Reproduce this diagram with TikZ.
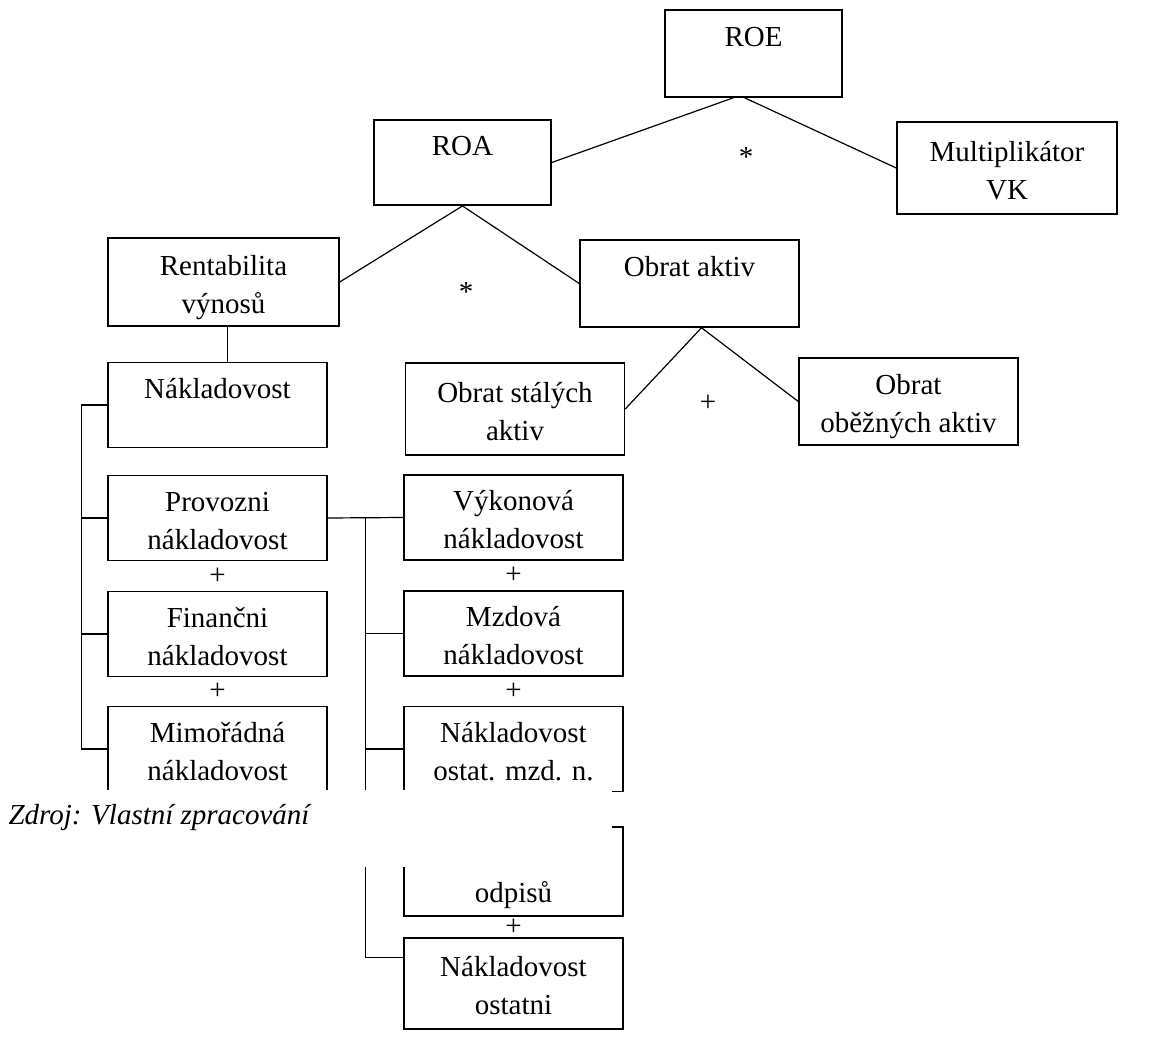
\documentclass[tikz,border=0pt]{standalone}
\usepackage{fontspec}
\setmainfont{Liberation Serif}
\usetikzlibrary{calc}
\newcommand{\blockWidth}{219}
\newcommand{\blockHeight}{85}
\newcommand{\topWidth}{177}
\newcommand{\maskTop}{790}
\newcommand{\maskBottom}{867}
\newcommand{\textFont}{\fontsize{29}{38}\selectfont}
\newcommand{\topStrut}{\rule{0pt}{36pt}}

\begin{document}
\begin{tikzpicture}[x=1pt, y=-1pt,
	every node/.style={font=\textFont},
	block/.style={draw, line width=1.5pt, align=center, inner sep=0pt, minimum width=\blockWidth pt, minimum height=\blockHeight pt},
	link/.style={line width=1.2pt},
	op/.style={inner sep=0pt}]
	\useasboundingbox (0,0) rectangle (1163,1040);

	% top of the tree
	\node[block, minimum width=\topWidth pt, minimum height=87pt] (roe) at (753.5,53.5) {\topStrut ROE\\\strut};
	\node[block, minimum width=\topWidth pt, minimum height=81pt] (roa) at (462.5,162.5) {\topStrut ROA\\\strut};
	\node[block, minimum width=220pt, minimum height=92pt] (multi) at (1007,168) {\topStrut Multiplikátor\\VK\strut};
	\node[block, minimum width=231pt, minimum height=88pt] (rent) at (223.5,282) {\topStrut Rentabilita\\výnosů\strut};
	\node[block, minimum height=87pt] (obrAkt) at (689.5,283.5) {\topStrut Obrat aktiv\\\strut};
	\node[block, minimum height=92pt] (obrSta) at (515,409) {\topStrut Obrat stálých\\aktiv\strut};
	\node[block, minimum height=87pt] (obrObe) at (908.5,401.5) {\topStrut Obrat\\oběžných aktiv\strut};

	% left column
	\node[block, minimum height=82pt] (nakl) at (217.5,405) {\topStrut Nákladovost\\\strut};
	\node[block, minimum height=84pt] (prov) at (217.5,518) {\topStrut Provozni\\nákladovost\strut};
	\node[block, minimum height=82pt] (fin) at (217.5,634) {\topStrut Finančni\\nákladovost\strut};
	\node[block, minimum height=84pt] (mimo) at (217.5,749) {\topStrut Mimořádná\\nákladovost\strut};

	% middle column
	\node[block] (vykon) at (513.5,517.5) {\topStrut Výkonová\\nákladovost\strut};
	\node[block, minimum height=83pt] (mzd) at (513.5,633.5) {\topStrut Mzdová\\nákladovost\strut};
	\node[block, minimum height=84pt] (ostMzd) at (513.5,749) {\topStrut Nákladovost\\ostat. mzd. n.\strut};
	\node[block, minimum height=89pt] (odpis) at (513.5,871.5) {\topStrut\\odpisů\strut};
	\node[block, minimum height=91pt] (ostatni) at (513.5,983.5) {\topStrut Nákladovost\\ostatni\strut};

	% operators
	\node[op] (starTop) at (746,157) {*};
	\node[op] (starMid) at (466,292) {*};
	\node[op] (plusObr) at (708,403) {+};
	\node[op] (plusProv) at ($(prov.south)!.5!(fin.north)$) {+};
	\node[op] (plusFin) at ($(fin.south)!.5!(mimo.north)$) {+};
	\node[op] (plusVyk) at ($(vykon.south)!.5!(mzd.north)$) {+};
	\node[op] (plusMzd) at ($(mzd.south)!.5!(ostMzd.north)$) {+};
	\node[op] (plusOdp) at ($(odpis.south)!.5!(ostatni.north)$) {+};

	% connectors
	\draw[link] ([xshift=-20pt]roe.south) -- (roa.east);
	\draw[link] ([xshift=-9pt]roe.south) -- (multi.west);
	\draw[link] (roa.south) -- (rent.east);
	\draw[link] (roa.south) -- (obrAkt.west);
	\draw[link] ([xshift=12pt]obrAkt.south) -- (obrSta.east);
	\draw[link] ([xshift=12pt]obrAkt.south) -- (obrObe.west);
	\draw[link] ([xshift=4pt]rent.south) -- ([xshift=4pt]rent.south |- nakl.north);

	\coordinate (leftBus) at ($(nakl.west)+(-26,0)$);
	\draw[link] (nakl.west) -- (leftBus) |- (mimo.west);
	\foreach \n in {prov,fin}
	{
		\draw[link] (\n.west) -- (leftBus |- \n.west);
	}

	\coordinate (midBus) at ($(prov.east)!.5!(vykon.west)$);
	\draw[link] (prov.east) -- (vykon.west);
	\draw[link] (midBus) |- ([yshift=26pt]ostatni.west);
	\foreach \n in {mzd,ostMzd}
	{
		\draw[link] (midBus |- \n.west) -- (\n.west);
	}

	% page cut
	\fill[white] (0,\maskTop) rectangle (612,\maskBottom);
	\fill[white] (612,792) rectangle (640,826);
	\node[anchor=west, font=\textFont\itshape] (source) at (5,818) {Zdroj: Vlastní zpracování};
\end{tikzpicture}
\end{document}
